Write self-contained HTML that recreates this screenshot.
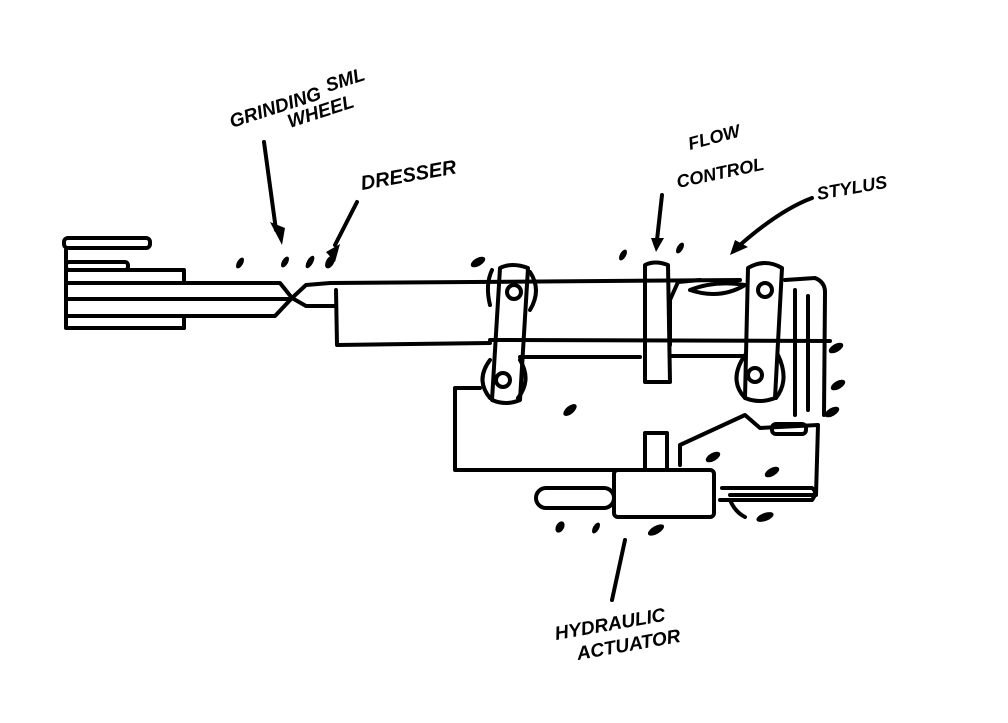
<!DOCTYPE html>
<html><head><meta charset="utf-8"><style>
html,body{margin:0;padding:0;background:#fff;width:1008px;height:723px;overflow:hidden}
svg{display:block}
text{font-family:"Liberation Sans",sans-serif;font-weight:bold;fill:#000;font-style:italic}
</style></head><body>
<svg width="1008" height="723" viewBox="0 0 1008 723" xmlns="http://www.w3.org/2000/svg">
<g fill="none" stroke="#000" stroke-width="4" stroke-linecap="round" stroke-linejoin="round">
<!-- grinding wheel -->
<rect x="64" y="238" width="86" height="10" rx="4"/>
<path d="M66 250 L66 328 L184 328"/>
<rect x="66" y="262" width="62" height="8" rx="3"/>
<path d="M66 270 L184 270 L184 282"/>
<path d="M66 283 L280 283 L292 298"/>
<path d="M66 299 L288 299"/>
<path d="M66 316 L184 316 L184 328"/>
<path d="M184 316 L275 316 L292 298"/>
<!-- dresser -->
<path d="M292 298 L306 285 L330 283 L740 280"/>
<path d="M292 298 L306 306 L336 306"/>
<path d="M336 290 L337 345 L490 343"/>
<!-- rods -->
<path d="M490 340 L830 341"/>
<path d="M520 357 L640 357"/>
<path d="M670 356 L745 356"/>
<path d="M670 300 L678 282 L700 280"/>
<path d="M670 300 L670 345"/>
<!-- left link -->
<path d="M500 268 Q512 262 528 268 L520 400 Q506 406 492 400 Z"/>
<circle cx="514" cy="292" r="7"/>
<circle cx="503" cy="380" r="7"/>
<path d="M492 270 Q485 285 490 305"/>
<path d="M530 272 Q542 290 530 310"/>
<path d="M490 360 Q475 380 490 398"/>
<path d="M520 360 Q532 380 518 398"/>
<!-- lower body -->
<path d="M480 388 L455 388 L455 470 L640 470"/>
<!-- flow control -->
<path d="M645 265 Q655 260 668 265 L670 382 L645 382 Z"/>
<!-- stylus -->
<path d="M690 290 Q715 280 745 285 Q720 300 690 290 Z"/>
<!-- right link -->
<path d="M748 268 Q765 258 782 268 L775 398 Q760 404 745 398 Z"/>
<circle cx="765" cy="290" r="7"/>
<circle cx="755" cy="375" r="7"/>
<path d="M745 355 Q728 380 745 398"/>
<path d="M778 355 Q790 380 776 398"/>
<!-- right vertical -->
<path d="M785 280 L815 278 Q825 282 825 292 L824 415"/>
<path d="M795 290 L795 415"/>
<path d="M808 296 L808 410"/>
<!-- arm -->
<path d="M680 465 L680 445 L745 415 L760 428 L818 425 L816 495 L730 495"/>
<rect x="772" y="424" width="34" height="10" rx="4"/>
<!-- small block -->
<rect x="645" y="433" width="22" height="37"/>
<!-- actuator -->
<rect x="614" y="470" width="100" height="47" rx="4"/>
<rect x="536" y="488" width="78" height="20" rx="10"/>
<path d="M722 488 L812 488 Q818 492 812 500 L720 500"/>
<path d="M730 500 Q735 512 745 517"/>
<!-- leaders -->
<path d="M264 142 L276 230"/>
<path d="M357 202 L335 245"/>
<path d="M662 195 L657 240"/>
<path d="M812 198 Q780 210 740 245"/>
<path d="M625 540 L612 600"/>
</g>
<g fill="#000">
<path d="M270 222 L285 228 L282 245 Z"/>
<path d="M326 252 L340 244 L335 262 Z"/>
<path d="M651 238 L664 238 L656 252 Z"/>
<path d="M735 240 L748 247 L730 255 Z"/>
<ellipse cx="240" cy="263" rx="3" ry="6" transform="rotate(30 240 263)"/>
<ellipse cx="285" cy="262" rx="3" ry="6" transform="rotate(30 285 262)"/>
<ellipse cx="310" cy="262" rx="3" ry="7" transform="rotate(30 310 262)"/>
<ellipse cx="330" cy="262" rx="4" ry="7" transform="rotate(30 330 262)"/>
<ellipse cx="478" cy="262" rx="8" ry="4" transform="rotate(-30 478 262)"/>
<ellipse cx="623" cy="255" rx="3" ry="6" transform="rotate(30 623 255)"/>
<ellipse cx="680" cy="248" rx="3" ry="6" transform="rotate(30 680 248)"/>
<ellipse cx="836" cy="348" rx="8" ry="4" transform="rotate(-30 836 348)"/>
<ellipse cx="838" cy="385" rx="8" ry="4" transform="rotate(-30 838 385)"/>
<ellipse cx="832" cy="412" rx="8" ry="4" transform="rotate(-30 832 412)"/>
<ellipse cx="570" cy="410" rx="8" ry="4" transform="rotate(-40 570 410)"/>
<ellipse cx="713" cy="457" rx="8" ry="4" transform="rotate(-30 713 457)"/>
<ellipse cx="772" cy="472" rx="8" ry="4" transform="rotate(-30 772 472)"/>
<ellipse cx="765" cy="517" rx="9" ry="4" transform="rotate(-20 765 517)"/>
<ellipse cx="560" cy="527" rx="4" ry="6" transform="rotate(30 560 527)"/>
<ellipse cx="596" cy="528" rx="3" ry="6" transform="rotate(30 596 528)"/>
<ellipse cx="656" cy="530" rx="9" ry="4" transform="rotate(-30 656 530)"/>
</g>
<text x="232" y="128" font-size="19" transform="rotate(-18 232 128)">GRINDING</text>
<text x="328" y="92" font-size="19" transform="rotate(-18 328 92)">SML</text>
<text x="290" y="128" font-size="19" transform="rotate(-18 290 128)">WHEEL</text>
<text x="362" y="190" font-size="20" transform="rotate(-10 362 190)">DRESSER</text>
<text x="690" y="150" font-size="18" transform="rotate(-15 690 150)">FLOW</text>
<text x="678" y="188" font-size="18" transform="rotate(-12 678 188)">CONTROL</text>
<text x="818" y="200" font-size="18" transform="rotate(-10 818 200)">STYLUS</text>
<text x="556" y="640" font-size="19" transform="rotate(-10 556 640)">HYDRAULIC</text>
<text x="578" y="660" font-size="19" transform="rotate(-10 578 660)">ACTUATOR</text>
</svg>
</body></html>
